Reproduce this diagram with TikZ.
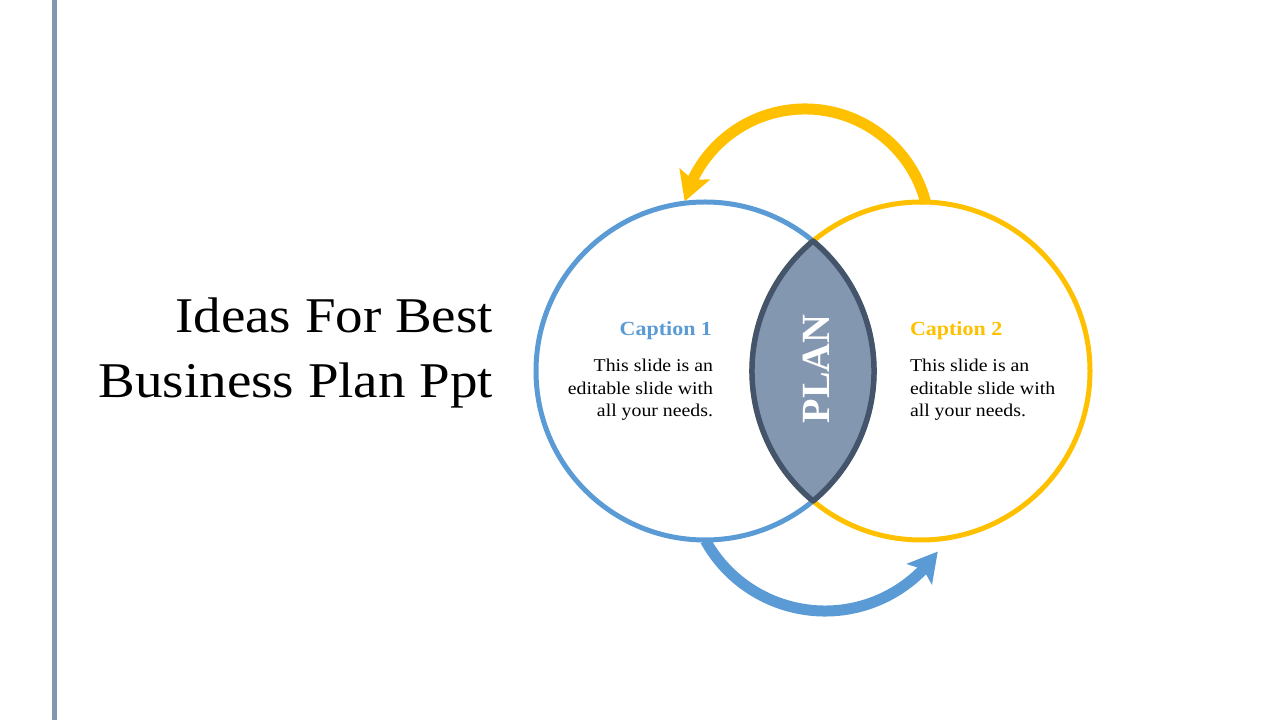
\documentclass[tikz,border=0pt]{standalone}
\usepackage{fontspec}
\setmainfont{Liberation Serif}[FakeStretch=1.1]
\newfontfamily\planfont{Liberation Serif}
\usetikzlibrary{arrows.meta,bending}
\definecolor{barcol}{HTML}{8497B0}
\definecolor{bluec}{HTML}{5B9BD5}
\definecolor{yellowc}{HTML}{FFC000}
\definecolor{lensfill}{HTML}{8497B0}
\definecolor{lensline}{HTML}{44546A}
\tikzset{
  ring/.style={line width=5pt},
  curvearrow/.style={line width=11pt,-{Stealth[length=29pt,width=32pt,inset=6pt]}},
  txt/.style={inner sep=0pt,outer sep=0pt},
  caption/.style={txt,font=\fontsize{20}{24}\selectfont\bfseries},
  body/.style={txt,font=\fontsize{18}{22.5}\selectfont},
}
\begin{document}
\begin{tikzpicture}[x=1pt,y=1pt]
\useasboundingbox (0,0) rectangle (1280,720);
\fill[barcol] (52,0) rectangle (57,720);
% title
\node[txt,anchor=base east,align=right,font=\fontsize{50}{65}\selectfont] (title) at (493,322) {Ideas For Best\\Business Plan Ppt};
% centres
\coordinate (cb) at (705,349);
\coordinate (cy) at (921,349);
% arrows
\coordinate (yc) at (805,486.4);
\coordinate (bc) at (825,245.7);
\draw[yellowc,curvearrow] ([shift={(14:124.6)}]yc) arc[start angle=14,end angle=165,radius=124.6];
\draw[bluec,curvearrow] ([shift={(209:136.7)}]bc) arc[start angle=209,end angle=325.6,radius=136.7];
% circles
\draw[bluec,ring] (cb) circle[radius=169];
\draw[yellowc,ring] (cy) circle[radius=169];
% lens
\draw[lensline,fill=lensfill,line width=5.5pt,line join=round]
  (813,479) arc[start angle=129.7,end angle=230.3,radius=169]
  arc[start angle=-50.3,end angle=50.3,radius=169] -- cycle;
\node[txt,rotate=90,text=white,font=\planfont\fontsize{40}{40}\selectfont\bfseries] (plan) at (816,351) {PLAN};
% captions
\node[caption,text=bluec,anchor=base east] (cap1) at (712,384) {Caption 1};
\node[body,anchor=base east,align=right] (body1) at (713,303) {This slide is an\\editable slide with\\all your needs.};
\node[caption,text=yellowc,anchor=base west] (cap2) at (910,384) {Caption 2};
\node[body,anchor=base west,align=left] (body2) at (910,303) {This slide is an\\editable slide with\\all your needs.};
\end{tikzpicture}
\end{document}
